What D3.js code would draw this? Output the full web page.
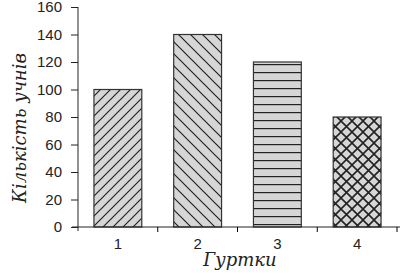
<!DOCTYPE html>
<html>
<head>
<meta charset="utf-8">
<script src="https://cdn.jsdelivr.net/npm/d3@7"></script>
<style>
  body { margin: 0; background: #fff; }
  svg { display: block; }
</style>
</head>
<body>
<div class="main"></div>
<script>
// дані
var groups = ['1', '2', '3', '4'];
var pupils = [100, 140, 120, 80];
var yTicks = [0, 20, 40, 60, 80, 100, 120, 140, 160];
var patterns = ['diagUp', 'diagDown', 'horiz', 'cross'];

var W = 410, H = 274;
var x0 = 78, x1 = 397, yTop = 7, yBot = 227;

var svg = d3.select('.main').append('svg')
    .attr('width', W)
    .attr('height', H);

// візерунки штрихування
var defs = svg.append('defs');
function pat(id, size, draw) {
  var p = defs.append('pattern')
      .attr('id', id)
      .attr('patternUnits', 'userSpaceOnUse')
      .attr('width', size)
      .attr('height', size);
  p.append('rect').attr('width', size).attr('height', size).attr('fill', '#d6d6d6');
  draw(p, size);
}
var ink = '#222';
pat('diagUp', 10, function(p, s) {
  p.append('path').attr('d', 'M0,' + s + 'L' + s + ',0M-2,2L2,-2M' + (s-2) + ',' + (s+2) + 'L' + (s+2) + ',' + (s-2))
    .attr('stroke', ink).attr('stroke-width', 1.2);
});
pat('diagDown', 12, function(p, s) {
  p.append('path').attr('d', 'M0,0L' + s + ',' + s + 'M-2,' + (s-2) + 'L2,' + (s+2) + 'M' + (s-2) + ',-2L' + (s+2) + ',2')
    .attr('stroke', ink).attr('stroke-width', 1.2);
});
pat('horiz', 8, function(p, s) {
  p.append('path').attr('d', 'M0,0.5H' + s)
    .attr('stroke', ink).attr('stroke-width', 1.4);
});
pat('cross', 11, function(p, s) {
  p.append('path').attr('d', 'M0,0L' + s + ',' + s + 'M0,' + s + 'L' + s + ',0')
    .attr('stroke', ink).attr('stroke-width', 1.6);
});

// шкали
var x = d3.scaleBand().domain(groups).range([x0, x1]).paddingInner(0.4).paddingOuter(0.2);
var y = d3.scaleLinear().domain([0, 160]).range([yBot, yTop]);

// стовпчики
svg.selectAll('rect.bar').data(pupils).enter().append('rect')
    .attr('class', 'bar')
    .attr('x', (d, i) => x(groups[i]))
    .attr('y', d => y(d))
    .attr('width', x.bandwidth())
    .attr('height', d => y(0) - y(d))
    .attr('fill', (d, i) => 'url(#' + patterns[i] + ')')
    .attr('stroke', '#333')
    .attr('stroke-width', 1.2);

// осі
var fontTicks = 'Liberation Sans, Arial, sans-serif';
var yAxis = svg.append('g')
    .attr('transform', 'translate(' + x0 + ',0)')
    .call(d3.axisLeft(y).tickValues(yTicks).tickSize(7).tickPadding(9));
yAxis.select('.domain').attr('d', 'M0,' + yTop + 'V' + (yBot + 4));

var xAxis = svg.append('g')
    .attr('transform', 'translate(0,' + yBot + ')')
    .call(d3.axisBottom(x).tickSize(0).tickPadding(11));
xAxis.select('.domain').attr('d', 'M' + (x0 - 6) + ',0H' + (x1 + 3));

// поділки між групами
var sep = [x0 + x.step(), x0 + 2 * x.step(), x0 + 3 * x.step(), x1];
svg.selectAll('line.sep').data(sep).enter().append('line')
    .attr('x1', d => d).attr('x2', d => d)
    .attr('y1', yBot).attr('y2', yBot + 5)
    .attr('stroke', '#000');

svg.selectAll('.tick text')
    .attr('font-family', fontTicks)
    .attr('font-size', 15)
    .attr('fill', '#222');
svg.selectAll('.domain, .tick line').attr('stroke', '#222');

// підписи осей
var serif = 'DejaVu Serif, Liberation Serif, serif';
svg.append('text')
    .attr('transform', 'translate(26,128) rotate(-90)')
    .attr('text-anchor', 'middle')
    .attr('font-family', serif)
    .attr('font-style', 'italic')
    .attr('font-size', 18)
    .attr('fill', '#222')
    .text('Кількість учнів');

svg.append('text')
    .attr('x', 240)
    .attr('y', 266)
    .attr('text-anchor', 'middle')
    .attr('font-family', serif)
    .attr('font-style', 'italic')
    .attr('font-size', 18)
    .attr('fill', '#222')
    .text('Гуртки');
</script>
</body>
</html>
